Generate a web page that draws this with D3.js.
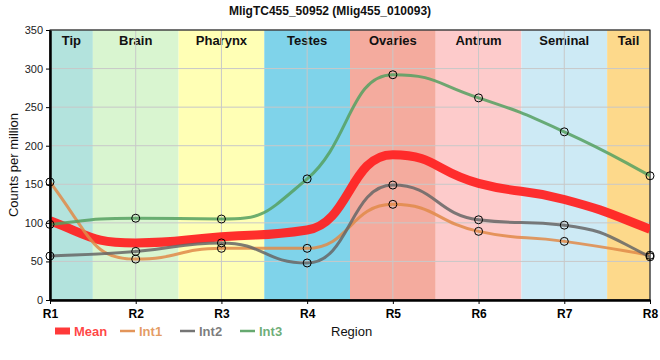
<!DOCTYPE html>
<html><head><meta charset="utf-8">
<script src="https://cdn.jsdelivr.net/npm/d3@7"></script>
<style>body{margin:0;background:#fff;font-family:"Liberation Sans",Arial,sans-serif;}</style>
</head><body>
<svg id="c" width="660" height="360"></svg>
<script>
const regions = ["R1","R2","R3","R4","R5","R6","R7","R8"];
const tissues = ["Tip","Brain","Pharynx","Testes","Ovaries","Antrum","Seminal","Tail"];
const tissueColors = ["#b3e3dd","#d9f5d0","#ffffb5","#7fd3ea","#f4ab9e","#fdcbcb","#cdeaf5","#fdd98b"];
const meanVals = [102.7, 74, 82, 90.7, 188.3, 151.3, 130.3, 91.7];
const int1 = [153, 53, 67, 67, 124, 89, 76, 58];
const int2 = [57, 63, 74, 48, 149, 104, 97, 56];
const int3 = [98, 106, 105, 157, 292, 262, 218, 161];
const yTicks = [0,50,100,150,200,250,300,350];
const seriesNames = ["Mean","Int1","Int2","Int3"];
const seriesColors = ["#ff2424","#e08a48","#666666","#55a060"];

// monotone curve with wider bezier handles (steeper mid transitions)
function curveWide(k){
  function C(ctx){ this._c = ctx; }
  C.prototype = {
    areaStart(){}, areaEnd(){},
    lineStart(){ this._p = []; },
    point(x,y){ this._p.push([+x,+y]); },
    lineEnd(){
      const p = this._p, n = p.length, c = this._c;
      if (!n) return;
      c.moveTo(p[0][0],p[0][1]);
      if (n===1) return;
      const s = [];
      for (let i=0;i<n-1;i++) s.push((p[i+1][1]-p[i][1])/(p[i+1][0]-p[i][0]));
      const m = new Array(n);
      for (let i=1;i<n-1;i++){
        const h0=p[i][0]-p[i-1][0], h1=p[i+1][0]-p[i][0];
        const pp=(s[i-1]*h1+s[i]*h0)/(h0+h1);
        m[i]=(Math.sign(s[i-1])+Math.sign(s[i]))*Math.min(Math.abs(s[i-1]),Math.abs(s[i]),0.5*Math.abs(pp))||0;
      }
      m[0] = n>2 ? (3*s[0]-m[1])/2 : s[0];
      m[n-1] = n>2 ? (3*s[n-2]-m[n-2])/2 : s[0];
      for (let i=0;i<n-1;i++){
        const h=p[i+1][0]-p[i][0], d=k*h;
        c.bezierCurveTo(p[i][0]+d,p[i][1]+d*m[i],p[i+1][0]-d,p[i+1][1]-d*m[i+1],p[i+1][0],p[i+1][1]);
      }
    }
  };
  return ctx => new C(ctx);
}

const svg = d3.select("#c");
const L=50,R=650,T=30,B=300;
const x = d3.scalePoint().domain(regions).range([L,R]);
const y = d3.scaleLinear().domain([0,350]).range([B,T]);
const step = x.step();

svg.append("defs").append("clipPath").attr("id","clip").append("rect")
  .attr("x",L).attr("y",T).attr("width",R-L).attr("height",B-T);

const g = svg.append("g");
tissues.forEach((t,i)=>{
  const cx = x(regions[i]);
  const x0 = Math.max(L, cx-step/2), x1 = Math.min(R, cx+step/2);
  g.append("rect").attr("x",x0).attr("y",T).attr("width",x1-x0).attr("height",B-T).attr("fill",tissueColors[i]);
  g.append("text").attr("x",(x0+x1)/2).attr("y",T+15).attr("text-anchor","middle")
   .attr("font-weight","bold").attr("font-size",13).attr("fill","#111").text(t);
});
yTicks.forEach(v=>{
  svg.append("line").attr("x1",L).attr("x2",R).attr("y1",y(v)).attr("y2",y(v)).attr("stroke","#c8c8c8").attr("stroke-width",1);
});
regions.forEach(r=>{
  svg.append("line").attr("x1",x(r)).attr("x2",x(r)).attr("y1",T).attr("y2",B).attr("stroke","#c8c8c8").attr("stroke-width",1);
});
svg.append("rect").attr("x",L).attr("y",T).attr("width",R-L).attr("height",B-T).attr("fill","none").attr("stroke","#000").attr("stroke-width",1);

const line = d3.line().x((d,i)=>x(regions[i])).y(d=>y(d)).curve(curveWide(0.5));
const data = [meanVals,int1,int2,int3];
const widths = [9,3,3,3];
const ops = [0.95,0.85,0.85,0.85];
const lines = svg.append("g").attr("clip-path","url(#clip)");
data.forEach((s,k)=>{
  lines.append("path").attr("d",line(s)).attr("fill","none").attr("stroke",seriesColors[k])
    .attr("stroke-width",widths[k]).attr("stroke-opacity",ops[k]).attr("stroke-linecap","butt");
});
[int1,int2,int3].forEach(s=>{
  s.forEach((v,i)=>{
    svg.append("circle").attr("cx",x(regions[i])).attr("cy",y(v)).attr("r",4)
      .attr("fill","none").attr("stroke","#000").attr("stroke-width",1);
  });
});

const ya = svg.append("g").attr("transform",`translate(${L},0)`).call(d3.axisLeft(y).tickValues(yTicks).tickSize(4).tickSizeOuter(0));
ya.select(".domain").attr("stroke-width",2.5);
ya.selectAll("text").attr("font-size",11).attr("fill","#222").attr("font-family","Liberation Sans, Arial");
const xa = svg.append("g").attr("transform",`translate(0,${B})`).call(d3.axisBottom(x).tickSize(4).tickSizeOuter(0));
xa.select(".domain").attr("stroke-width",2.5);
xa.selectAll("text").attr("font-size",12).attr("font-weight","bold").attr("fill","#000").attr("font-family","Liberation Sans, Arial").attr("dy","0.9em");

svg.append("text").attr("transform","translate(18,165) rotate(-90)").attr("text-anchor","middle")
  .attr("font-size",13).attr("fill","#111").text("Counts per million");
svg.append("text").attr("x",330).attr("y",15).attr("text-anchor","middle").attr("font-size",12)
  .attr("font-weight","bold").attr("fill","#111").text("MligTC455_50952 (Mlig455_010093)");
svg.append("text").attr("x",331).attr("y",336).attr("font-size",13).attr("fill","#111").text("Region");

const lx = [55,120,180,240];
seriesNames.forEach((n,k)=>{
  const lg = svg.append("g").attr("transform",`translate(${lx[k]},331)`);
  lg.append("line").attr("x1",0).attr("x2",15).attr("y1",0).attr("y2",0)
    .attr("stroke",seriesColors[k]).attr("stroke-width",k===0?7:2.5).attr("stroke-opacity",0.9);
  lg.append("text").attr("x",19).attr("y",5).attr("font-size",13).attr("font-weight","bold")
    .attr("fill",seriesColors[k]).attr("fill-opacity",0.85).text(n);
});
</script>
</body></html>
